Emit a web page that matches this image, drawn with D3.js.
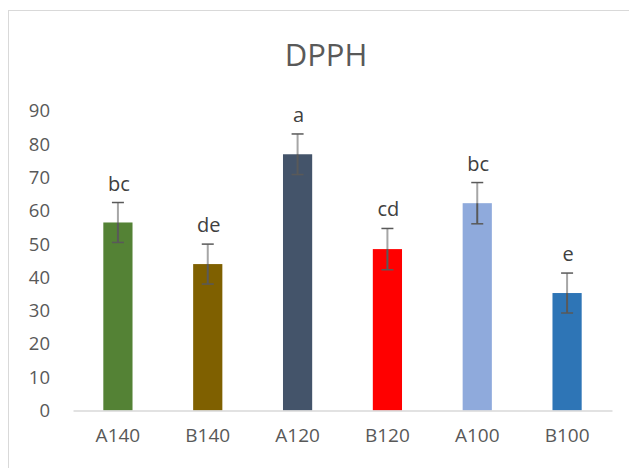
<!DOCTYPE html>
<html>
<head>
    <meta charset="utf-8">
    <title>DPPH</title>
    <style>
        body { margin: 0; background: #fff; }
        svg { display: block; font-family: "Open Sans", "Noto Sans", sans-serif; }
        .tick text { fill: #595959; }
    </style>
</head>
<body>
    <script src="https://d3js.org/d3.v7.min.js"></script>
    <script>
        const width = 629;
        const height = 468;

        // data
        const categories = ["A140", "B140", "A120", "B120", "A100", "B100"];
        const values = [56.5, 44, 77, 48.5, 62.3, 35.3];
        const errors = [6, 6, 6.1, 6.2, 6.2, 6];
        const letters = ["bc", "de", "a", "cd", "bc", "e"];
        const colors = ["#548235", "#7f6000", "#44546a", "#ff0000", "#8faadc", "#2e75b6"];
        const yTicks = [0, 10, 20, 30, 40, 50, 60, 70, 80, 90];

        const margin = {left: 73, right: 17, top: 111, bottom: 58};

        const svg = d3.select("body").append("svg")
            .attr("width", width)
            .attr("height", height);

        // chart frame (runs off the right and bottom edges)
        svg.append("rect")
            .attr("x", 8.5).attr("y", 10.5)
            .attr("width", 640).attr("height", 480)
            .attr("fill", "none")
            .attr("stroke", "#d9d9d9");

        const x = d3.scaleBand()
            .domain(categories)
            .range([margin.left, width - margin.right])
            .paddingInner(0.675)
            .paddingOuter(0.3375);

        const y = d3.scaleLinear()
            .domain([0, 90])
            .range([height - margin.bottom + 0.5, margin.top]);

        svg.append("text")
            .attr("x", 326).attr("y", 66)
            .attr("text-anchor", "middle")
            .attr("fill", "#595959")
            .style("font-size", "31px")
            .text("DPPH");

        // y axis: labels only
        const yAxis = svg.append("g")
            .attr("transform", `translate(${margin.left - 23},0)`)
            .call(d3.axisLeft(y).tickValues(yTicks).tickSize(0).tickPadding(0))
            .style("font-size", "18.5px")
            .attr("font-family", null);
        yAxis.select(".domain").remove();

        // bars
        svg.append("g").selectAll("rect")
            .data(categories)
            .join("rect")
            .attr("x", d => x(d))
            .attr("width", x.bandwidth())
            .attr("y", (d, i) => y(values[i]))
            .attr("height", (d, i) => y(0) - y(values[i]))
            .attr("fill", (d, i) => colors[i]);

        // x axis
        const xAxis = svg.append("g")
            .attr("transform", `translate(0,${y(0)})`)
            .call(d3.axisBottom(x).tickSize(0).tickPadding(18))
            .style("font-size", "19px")
            .attr("font-family", null);
        xAxis.select(".domain")
            .attr("stroke", "#d9d9d9")
            .attr("stroke-width", 1.5);

        // error bars
        const err = svg.append("g").selectAll("g")
            .data(categories)
            .join("g")
            .attr("transform", d => `translate(${x(d) + x.bandwidth() / 2},0)`);

        err.append("line")
            .attr("y1", (d, i) => y(values[i] + errors[i]))
            .attr("y2", (d, i) => y(values[i]))
            .attr("stroke", "#a6a6a6")
            .attr("stroke-width", 2);
        err.append("line")
            .attr("y1", (d, i) => y(values[i]))
            .attr("y2", (d, i) => y(values[i] - errors[i]))
            .attr("stroke", "#595959")
            .attr("stroke-width", 2);
        err.append("line")
            .attr("x1", -6).attr("x2", 6)
            .attr("y1", (d, i) => y(values[i] + errors[i]))
            .attr("y2", (d, i) => y(values[i] + errors[i]))
            .attr("stroke", "#595959")
            .attr("stroke-width", 1.5);
        err.append("line")
            .attr("x1", -6).attr("x2", 6)
            .attr("y1", (d, i) => y(values[i] - errors[i]))
            .attr("y2", (d, i) => y(values[i] - errors[i]))
            .attr("stroke", "#595959")
            .attr("stroke-width", 1.5);

        // significance letters
        svg.append("g").selectAll("text")
            .data(categories)
            .join("text")
            .attr("x", d => x(d) + x.bandwidth() / 2 + 1)
            .attr("y", (d, i) => y(values[i] + errors[i]) - 12)
            .attr("text-anchor", "middle")
            .attr("fill", "#404040")
            .style("font-size", "20px")
            .text((d, i) => letters[i]);
    </script>
</body>
</html>
